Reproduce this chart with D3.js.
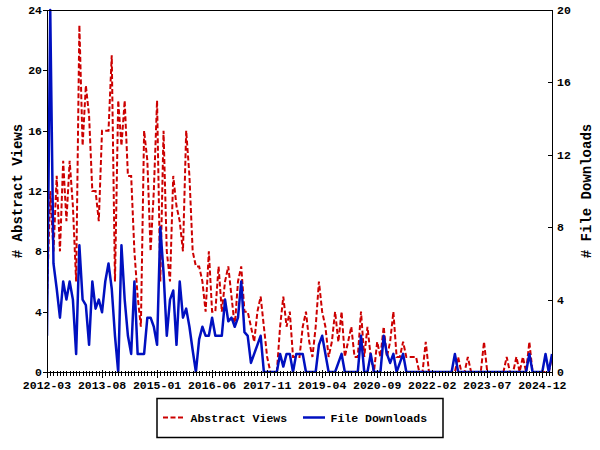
<!DOCTYPE html>
<html>
<head>
<meta charset="utf-8">
<script src="https://cdn.jsdelivr.net/npm/d3@7"></script>
<style>
  html, body { margin: 0; padding: 0; background: #fff; }
  svg { display: block; }
</style>
</head>
<body>
<svg id="chart" width="600" height="450"></svg>
<script>
// ---- data (monthly, starting 2012-03) ----
const startYear = 2012, startMonth = 3;
const abstractViews = [
  5,12,8,13,8,14,10,14,11,6,
  23,15,19,17,12,12,10,16,16,16,
  21,6,18,15,18,13,13,8,5,3,
  16,14,8,12,18,6,16,8,6,13,
  11,10,8,16,13,8,7,7,6,4,
  8,4,4,7,4,6,7,5,3,6,
  7,4,4,3,2,4,5,3,1,0,
  0,0,3,5,3,4,1,1,1,3,
  4,2,1,3,6,4,3,1,2,4,
  2,4,1,2,3,1,1,4,1,3,
  1,0,2,1,3,1,2,4,1,1,
  2,1,1,1,1,0,0,2,0,0,
  0,0,0,0,0,0,0,1,0,0,
  1,0,0,0,0,2,0,0,0,0,
  0,0,1,0,0,1,0,1,0,2,
  0,0,0,0,0,0,1
];
const fileDownloads = [
  2,20,6,4.6,3,5,4,5,4,1,
  7,4,3.7,1.5,5,3.5,4,3.3,5,6,
  4.6,2,0,7,4,2,1,5,1,1,
  1,3,3,2.5,1.5,8,5.5,2,4,4.5,
  1.5,5,3,3.5,2.5,1.2,0,1.8,2.5,2,
  2,3,2,2,2,4,2.8,3,2.5,3,
  5,2.2,2,0.5,1,1.5,2,0,0,0,
  0,0,1,0.3,1,1,0,1,1,1,
  0,0,0,0,1.5,2,1,0,0,0,
  0.5,1,0,0,0,0,0,2,0,0,
  1,0,0,0,2,1,0.5,1,0,0.5,
  1,0,0,0,0,0,0,0,0,0,
  0,0,0,0,0,0,1,0,0,0,
  0,0,0,0,0,0,0,0,0,0,
  0,0,0,0,0,0,0,0,0,1,
  0,0,0,0,1,0,1
];
const xTickLabels = ["2012-03","2013-08","2015-01","2016-06","2017-11","2019-04","2020-09","2022-02","2023-07","2024-12"];
const leftTicks = [0,4,8,12,16,20,24];
const rightTicks = [0,4,8,12,16,20];
const seriesNames = ["Abstract Views","File Downloads"];
const axisTitles = ["# Abstract Views","# File Downloads"];

// ---- layout ----
const L = 47, R = 552, T = 10, B = 372;
const nMonths = 156; // 2012-03 .. 2025-03
const svg = d3.select("#chart");
const x = d3.scaleLinear().domain([0, nMonths]).range([L, R]);
const yL = d3.scaleLinear().domain([0, 24]).range([B, T]);
const yR = d3.scaleLinear().domain([0, 20]).range([B, T]);
const red = "#cc0000", blue = "#0010c0";
const monoFont = "'Liberation Mono','DejaVu Sans Mono',monospace";

function labelIndex(s) {
  const [yy, mm] = s.split("-").map(Number);
  return (yy - startYear) * 12 + (mm - startMonth);
}

// clip
svg.append("clipPath").attr("id","clip").append("rect")
  .attr("x", L).attr("y", T - 2).attr("width", R - L).attr("height", B - T + 2);

const g = svg.append("g").attr("clip-path","url(#clip)");

const lineV = d3.line().x((d,i) => x(i)).y(d => yL(d));
const lineD = d3.line().x((d,i) => x(i)).y(d => yR(d));

g.append("path").datum(abstractViews)
  .attr("d", lineV).attr("fill","none").attr("stroke", red)
  .attr("stroke-width", 2).attr("stroke-dasharray","5,2.5");
g.append("path").datum(fileDownloads)
  .attr("d", lineD).attr("fill","none").attr("stroke", blue)
  .attr("stroke-width", 2.5).attr("stroke-linejoin","round");

// frame
svg.append("rect").attr("x", L + 0.5).attr("y", T + 0.5)
  .attr("width", R - L).attr("height", B - T)
  .attr("fill","none").attr("stroke","#000").attr("stroke-width",1);

// x minor ticks (monthly)
const xt = svg.append("g");
d3.range(0, nMonths + 1).forEach(i => {
  const xx = Math.round(x(i)) + 0.5;
  xt.append("line").attr("x1", xx).attr("x2", xx)
    .attr("y1", B - 1).attr("y2", B + 4).attr("stroke","#000").attr("stroke-width",1);
});
xTickLabels.forEach(s => {
  const i = labelIndex(s);
  const xx = Math.round(x(i)) + 0.5;
  xt.append("line").attr("x1", xx).attr("x2", xx)
    .attr("y1", B - 2).attr("y2", B + 6).attr("stroke","#000").attr("stroke-width",1);
  xt.append("text").attr("x", x(i)).attr("y", B + 17)
    .attr("text-anchor","middle").attr("font-family", monoFont)
    .attr("font-size","11.5px").attr("font-weight","bold").text(s);
});

// left ticks
leftTicks.forEach(v => {
  const yy = Math.round(yL(v)) + 0.5;
  svg.append("line").attr("x1", L - 4).attr("x2", L + 0.5)
    .attr("y1", yy).attr("y2", yy).attr("stroke","#000");
  svg.append("text").attr("x", L - 5).attr("y", yL(v) + 4)
    .attr("text-anchor","end").attr("font-family", monoFont)
    .attr("font-size","11.5px").attr("font-weight","bold").text(v);
});
// right ticks
rightTicks.forEach(v => {
  const yy = Math.round(yR(v)) + 0.5;
  svg.append("line").attr("x1", R - 4).attr("x2", R + 0.5)
    .attr("y1", yy).attr("y2", yy).attr("stroke","#000");
  svg.append("text").attr("x", R + 5).attr("y", yR(v) + 4)
    .attr("text-anchor","start").attr("font-family", monoFont)
    .attr("font-size","11.5px").attr("font-weight","bold").text(v);
});

// axis titles
svg.append("text").attr("transform", `translate(22,${(T + B) / 2}) rotate(-90)`)
  .attr("text-anchor","middle").attr("font-family", monoFont)
  .attr("font-size","14px").attr("font-weight","bold").text(axisTitles[0]);
svg.append("text").attr("transform", `translate(591,${(T + B) / 2}) rotate(-90)`)
  .attr("text-anchor","middle").attr("font-family", monoFont)
  .attr("font-size","14px").attr("font-weight","bold").text(axisTitles[1]);

// legend
const lg = svg.append("g");
lg.append("rect").attr("x", 157).attr("y", 398.5).attr("width", 286).attr("height", 39)
  .attr("fill","#fff").attr("stroke","#000").attr("stroke-width",1.5);
lg.append("line").attr("x1",163).attr("x2",183).attr("y1",417.5).attr("y2",417.5)
  .attr("stroke", red).attr("stroke-width",2).attr("stroke-dasharray","5,2.5");
lg.append("text").attr("x",190.5).attr("y",422).attr("font-family", monoFont)
  .attr("font-size","11.5px").attr("font-weight","bold").text(seriesNames[0]);
lg.append("line").attr("x1",303).attr("x2",325).attr("y1",417.5).attr("y2",417.5)
  .attr("stroke", blue).attr("stroke-width",2.5);
lg.append("text").attr("x",330.5).attr("y",422).attr("font-family", monoFont)
  .attr("font-size","11.5px").attr("font-weight","bold").text(seriesNames[1]);
</script>
</body>
</html>
